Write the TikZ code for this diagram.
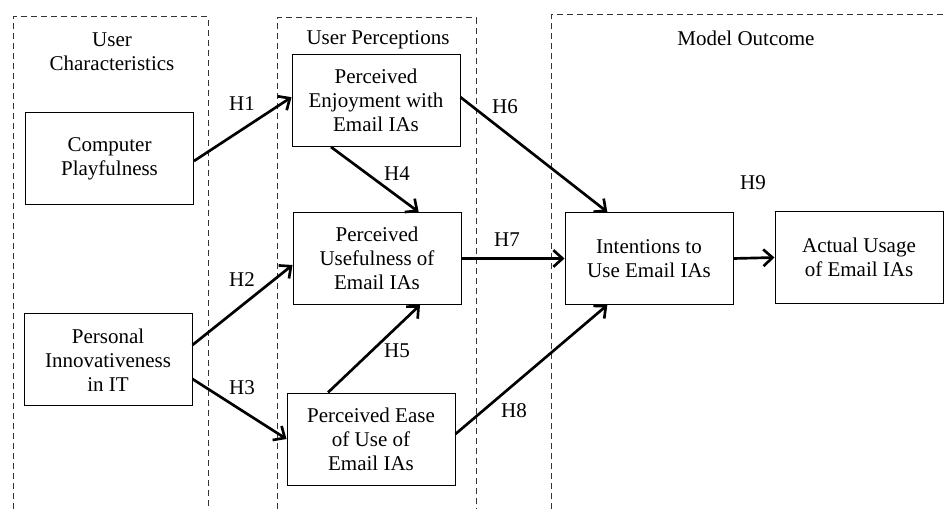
\documentclass[tikz,border=0pt]{standalone}
\usepackage{fontspec}
\setmainfont{Liberation Serif}
\usetikzlibrary{arrows.meta}

\begin{document}
\begin{tikzpicture}[
    x=0.6pt, y=-0.6pt,
    font=\fontsize{12.6}{14.4}\selectfont,
    construct/.style={draw, line width=0.6pt, align=center, minimum width=100.8pt, minimum height=55.2pt, inner sep=2pt},
    region/.style={draw, dash pattern=on 3.6pt off 2.4pt, line width=0.6pt, gray!40!black},
    link/.style={draw, line width=1.6pt, -{Straight Barb[length=5.5pt,width=10pt,line width=1.6pt]}},
    hyp/.style={inner sep=0pt}
]
    \useasboundingbox (0,0) rectangle (945,509);

    % dashed regions
    \draw[region] (13,509) -- (13,17) -- (208,17) -- (208,509);
    \draw[region] (277,509) -- (277,18) -- (476,18) -- (476,509);
    \draw[region] (551,509) -- (551,15) -- (945,15);

    \node[align=center] (t-user) at (112,51.5) {User\\Characteristics};
    \node (t-perc) at (378,40) {User Perceptions};
    \node (t-out) at (746,38) {Model Outcome};

    \node[construct] (cp) at (109.5,159) {Computer\\Playfulness};
    \node[construct] (pi) at (108,360) {Personal\\Innovativeness\\in IT};
    \node[construct] (pe) at (376,100.5) {Perceived\\Enjoyment with\\Email IAs};
    \node[construct] (pu) at (377,258.5) {Perceived\\Usefulness of\\Email IAs};
    \node[construct] (peou) at (371,439) {Perceived Ease\\of Use of\\Email IAs};
    \node[construct] (int) at (649,258.5) {Intentions to\\Use Email IAs};
    \node[construct] (au) at (859,257.5) {Actual Usage\\of Email IAs};

    \draw[link] ([yshift=-1.2pt]cp.east) -- ([yshift=2pt]pe.west);
    \draw[link] ([yshift=9pt]pi.east) -- ([yshift=-3.9pt]pu.west);
    \draw[link] ([yshift=-11.4pt]pi.east) -- (peou.west);
    \draw[link] ([xshift=-27pt]pe.south) -- ([xshift=25pt]pu.north);
    \draw[link] ([xshift=-25.8pt]peou.north) -- ([xshift=25.8pt]pu.south);
    \draw[link] ([yshift=2pt]pe.east) -- ([xshift=-25pt]int.north);
    \draw[link] (pu.east) -- (int.west);
    \draw[link] ([yshift=3pt]peou.east) -- ([xshift=-25pt]int.south);
    \draw[link] (int.east) -- (au.west);

    \foreach \lbl/\x/\y in {H1/242/104, H2/242/280, H3/242/388, H4/397/174, H5/397/351,
                            H6/505/107, H7/507/240, H8/514/411, H9/753/183}
        \node[hyp] (\lbl) at (\x,\y) {\lbl};

\end{tikzpicture}
\end{document}
